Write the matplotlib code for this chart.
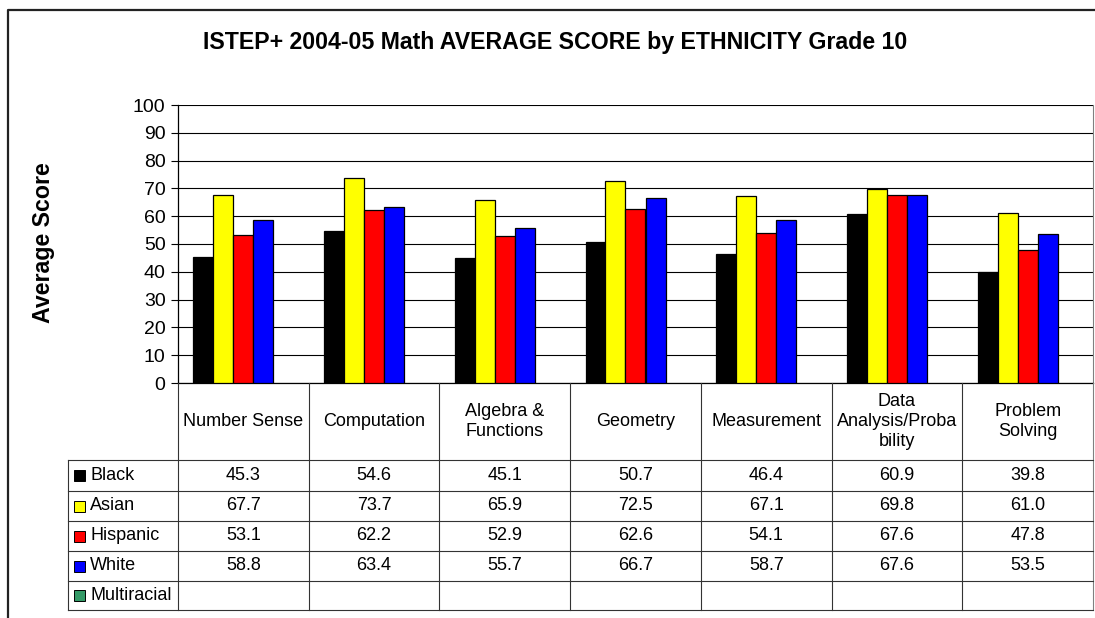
import numpy as np
import matplotlib
matplotlib.use('Agg')
import matplotlib.pyplot as plt
from matplotlib.patches import Rectangle

plt.rcParams['font.family'] = ['Liberation Sans', 'DejaVu Sans']

# data
categories = ['Number Sense', 'Computation', 'Algebra &\nFunctions', 'Geometry',
              'Measurement', 'Data\nAnalysis/Proba\nbility', 'Problem\nSolving']
series = ['Black', 'Asian', 'Hispanic', 'White', 'Multiracial']
black = [45.3, 54.6, 45.1, 50.7, 46.4, 60.9, 39.8]
asian = [67.7, 73.7, 65.9, 72.5, 67.1, 69.8, 61.0]
hispanic = [53.1, 62.2, 52.9, 62.6, 54.1, 67.6, 47.8]
white = [58.8, 63.4, 55.7, 66.7, 58.7, 67.6, 53.5]
multiracial = [None] * 7
colors = ['#000000', '#FFFF00', '#FF0000', '#0000FF', '#339966']
yticks = list(range(0, 101, 10))

W, H = 1095, 618
fig = plt.figure(figsize=(W / 100, H / 100), dpi=100)

# plot area in pixel units
px_left, px_right, px_top, px_bot = 178, 1093, 105, 383
ax = fig.add_axes([px_left / W, 1 - px_bot / H, (px_right - px_left) / W, (px_bot - px_top) / H])

ncat = len(categories)
nser = len(series)
x = np.arange(ncat)
slot = 20 / ((px_right - px_left) / ncat)
for j, (vals, col) in enumerate(zip([black, asian, hispanic, white, multiracial], colors)):
    if all(v is None for v in vals):
        continue
    ax.bar(x + (j - (nser - 1) / 2) * slot, vals, width=slot, color=col,
           edgecolor='black', linewidth=0.9, zorder=3)

ax.set_xlim(-0.5, ncat - 0.5)
ax.set_ylim(0, 100)
ax.set_yticks(yticks)
ax.tick_params(axis='y', direction='out', length=5, width=0.8, labelsize=14, pad=4)
ax.set_xticks([])
ax.yaxis.grid(True, color='black', linewidth=0.8, zorder=0)
ax.spines['top'].set_visible(False)
ax.spines['right'].set_color('#808080')
ax.spines['left'].set_linewidth(0.9)
ax.spines['bottom'].set_linewidth(0.9)

# overlay in pixel coordinates for title, label, border
ov = fig.add_axes([0, 0, 1, 1], zorder=-1)
ov.set_xlim(0, W)
ov.set_ylim(H, 0)
ov.axis('off')

# chart border
ov.plot([8, 8, W + 5], [H + 5, 10, 10], color='#222222', linewidth=1.6)

ov.text(555, 43, 'ISTEP+ 2004-05 Math AVERAGE SCORE by ETHNICITY Grade 10',
        ha='center', va='center', fontsize=16.7, fontweight='bold')
ov.text(44, 243, 'Average Score', ha='center', va='center', rotation=90,
        fontsize=16.7, fontweight='bold')

# data table
tab = fig.add_axes([0, 0, 1, 1], zorder=5)
tab.set_xlim(0, W)
tab.set_ylim(H, 0)
tab.axis('off')

col_w = (px_right - px_left) / ncat
col_edges = [px_left + i * col_w for i in range(ncat + 1)]
leg_left = 68
row_edges = [460, 491, 521, 551, 581, 610]
lc = '#333333'
lw = 0.8

# vertical lines
for xe in col_edges:
    tab.plot([xe, xe], [px_bot, row_edges[-1]], color=lc if xe != col_edges[-1] else '#808080', linewidth=lw)
tab.plot([leg_left, leg_left], [row_edges[0], row_edges[-1]], color=lc, linewidth=lw)
# horizontal lines
for ye in row_edges:
    tab.plot([leg_left, px_right], [ye, ye], color=lc, linewidth=lw)

# header
for i, cat in enumerate(categories):
    tab.text((col_edges[i] + col_edges[i + 1]) / 2, (px_bot + row_edges[0]) / 2, cat,
             ha='center', va='center', fontsize=13, linespacing=1.2)

# rows
for r, (name, vals, col) in enumerate(zip(series, [black, asian, hispanic, white, multiracial], colors)):
    yc = (row_edges[r] + row_edges[r + 1]) / 2
    tab.add_patch(Rectangle((74, yc - 5.5), 11, 11, facecolor=col, edgecolor='black', linewidth=0.7))
    tab.text(90, yc, name, ha='left', va='center', fontsize=13)
    for i, v in enumerate(vals):
        if v is not None:
            tab.text((col_edges[i] + col_edges[i + 1]) / 2, yc, f'{v:.1f}',
                     ha='center', va='center', fontsize=13)

fig.savefig('out.png', dpi=100)
